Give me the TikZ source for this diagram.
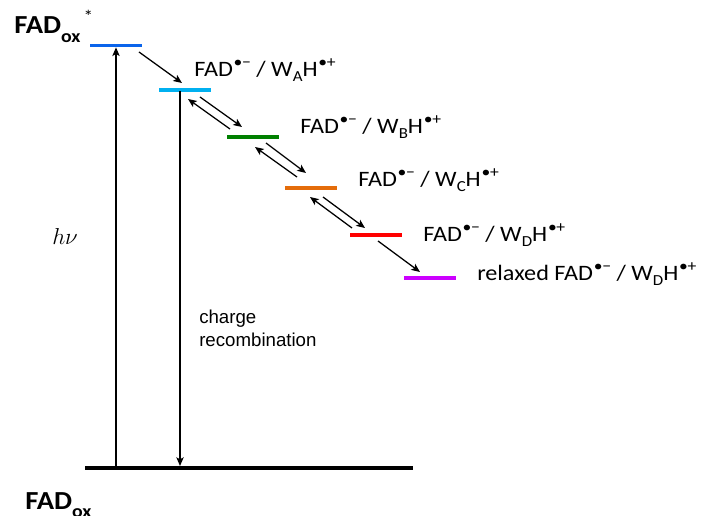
\documentclass[tikz,border=0pt]{standalone}
\usepackage{fontspec}
\setmainfont[FakeStretch=1.1]{Carlito}
\newfontfamily\arialfont{Liberation Sans}
\usetikzlibrary{arrows.meta}

\definecolor{lvblue}{RGB}{10,100,235}
\definecolor{lvcyan}{RGB}{0,176,240}
\definecolor{lvgreen}{RGB}{0,128,0}
\definecolor{lvorange}{RGB}{228,108,10}
\definecolor{lvred}{RGB}{255,0,0}
\definecolor{lvpurple}{RGB}{204,0,255}

% radical-ion superscripts and tryptophan subscripts
\newcommand{\radsup}[1]{\raisebox{0.42em}{\fontsize{12}{12}\selectfont\kern0.05em•\kern-0.02em#1}}
\newcommand{\trpsub}[1]{\raisebox{-0.22em}{\fontsize{11.5}{12}\selectfont #1}}
\newcommand{\pairlabel}[1]{FAD\radsup{−} / W\trpsub{#1}H\radsup{+}}
\newcommand{\oxsub}{\raisebox{-0.34em}{\fontsize{13.5}{14}\selectfont\bfseries ox}}

\begin{document}
\begin{tikzpicture}[x=0.75pt,y=-0.75pt,
  level/.style={fill=#1,draw=none,inner sep=0pt,minimum width=39pt,minimum height=2.4pt},
  ground/.style={fill=black,draw=none,inner sep=0pt,minimum width=246pt,minimum height=3pt},
  arr/.style={-{Stealth[length=6.5pt,width=5.5pt,inset=1.5pt]},line width=0.95pt},
  statelabel/.style={anchor=base west,inner sep=0pt,font=\fontsize{16.5}{19}\selectfont},
  boldlabel/.style={anchor=base west,inner sep=0pt,font=\fontsize{19.5}{22}\selectfont\bfseries}]

\useasboundingbox (0,0) rectangle (710,516);

% energy levels
\node[level=lvblue]   (L0) at (115.5,45.5) {};
\node[level=lvcyan]   (LA) at (185,90) {};
\node[level=lvgreen]  (LB) at (253,137) {};
\node[level=lvorange] (LC) at (311,188) {};
\node[level=lvred]    (LD) at (376,235) {};
\node[level=lvpurple] (LR) at (430,278) {};
\node[ground]         (G)  at (249,468) {};

% state labels
\node[boldlabel] (tExc) at (14,34) {FAD\oxsub\kern0.12em\raisebox{0.45em}{\fontsize{13}{13}\selectfont\mdseries *}};
\node[boldlabel] (tGnd) at (25,509) {FAD\oxsub};
\node[statelabel] (tA) at (194,77) {\pairlabel{A}};
\node[statelabel] (tB) at (300,134) {\pairlabel{B}};
\node[statelabel] (tC) at (358,187) {\pairlabel{C}};
\node[statelabel] (tD) at (423,242) {\pairlabel{D}};
\node[statelabel] (tR) at (477,281) {relaxed \pairlabel{D}};

\node[anchor=base west,inner sep=0pt,font=\fontsize{19}{23}\selectfont] (hv) at (52,245) {$h\nu$};
\node[anchor=north west,inner sep=0pt,align=left,
      font=\arialfont\fontsize{14}{17.4}\selectfont] (cr) at (199,310) {charge\\recombination};

% excitation and recombination
\coordinate (hvFoot) at (116,466);
\draw[arr] (hvFoot) -- (hvFoot |- L0.south);
\coordinate (crTop) at (180,91);
\coordinate (crFoot) at (180,466);
\draw[arr] (crTop) -- (crFoot);

% electron hopping along the tryptophan chain
\coordinate (a0) at (139,52);  \coordinate (a1) at (182,83);
\draw[arr] (a0) -- (a1);

\coordinate (b0) at (230,129); \coordinate (b1) at (188,99);
\coordinate (b2) at (200,97);  \coordinate (b3) at (242,127);
\draw[arr] (b0) -- (b1);
\draw[arr] (b2) -- (b3);

\coordinate (c0) at (297,177); \coordinate (c1) at (255,147);
\coordinate (c2) at (266,143); \coordinate (c3) at (306,173);
\draw[arr] (c0) -- (c1);
\draw[arr] (c2) -- (c3);

\coordinate (d0) at (352,228); \coordinate (d1) at (310,197);
\coordinate (d2) at (323,197); \coordinate (d3) at (365,228);
\draw[arr] (d0) -- (d1);
\draw[arr] (d2) -- (d3);

\coordinate (e0) at (378,241); \coordinate (e1) at (420,272);
\draw[arr] (e0) -- (e1);

\end{tikzpicture}
\end{document}
